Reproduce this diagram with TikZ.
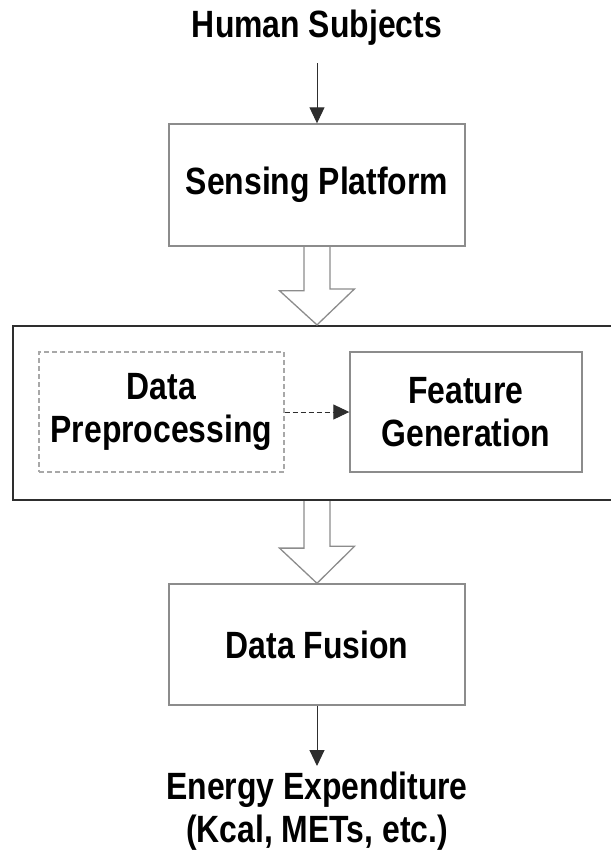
\documentclass[tikz,border=0pt]{standalone}
\usepackage{fontspec}
\setmainfont{Liberation Sans}[FakeStretch=0.84]
\usetikzlibrary{arrows.meta,calc}
\definecolor{boxgray}{HTML}{8C8C8C}
\definecolor{dashgray}{HTML}{A8A8A8}
\definecolor{linegray}{HTML}{2E2E2E}
\tikzset{
    label text/.style={font=\fontsize{38}{43}\selectfont\bfseries, align=center},
    plain box/.style={label text, draw=boxgray, line width=1.4pt, inner sep=0pt},
    dash box/.style={label text, draw=dashgray, line width=1.4pt, dash pattern=on 5pt off 3pt, inner sep=0pt},
    outer box/.style={draw=linegray, line width=2.2pt, inner sep=0pt},
    thin arrow/.style={draw=linegray, line width=1pt, -{Triangle[width=15pt,length=16pt]}},
    hollow/.style={draw=boxgray, line width=1.3pt, line join=miter}
}
\begin{document}
\begin{tikzpicture}[x=1pt, y=-1pt]
        \useasboundingbox (0, 0) rectangle (611, 863);
        \node[label text] (subj) at (317, 28) {Human Subjects};
        \coordinate (subjend) at (317, 63);
        \node[plain box, minimum width=296, minimum height=122] (sense) at (317, 185) {Sensing Platform};
        \node[outer box, minimum width=607, minimum height=174] (big) at (316.5, 413) {};
        \node[dash box, minimum width=245, minimum height=120] (prep) at (161.5, 412) {Data\\Preprocessing};
        \node[plain box, minimum width=232, minimum height=120] (feat) at (466, 412) {Feature\\Generation};
        \node[plain box, minimum width=296, minimum height=121] (fusion) at (317, 644.5) {Data Fusion};
        \node[label text] (ee) at (317, 811) {Energy Expenditure\\(Kcal, METs, etc.)};
        \coordinate (eestart) at (317, 766);
        \draw[thin arrow] (subjend) -- (sense.north);
        \draw[thin arrow, dash pattern=on 5pt off 3pt] (prep.east) -- (feat.west);
        \draw[thin arrow] (fusion.south) -- (eestart);
        % hollow block arrows
        \draw[hollow] ([xshift=-13pt]sense.south) -- ++(0, 44) -- ++(-24.5, 0) -- (sense.south |- big.north)
            -- ++(37.5, -36) -- ++(-24.5, 0) -- ([xshift=13pt]sense.south);
        \draw[hollow] ([xshift=-13pt]big.south -| fusion.north) -- ++(0, 47) -- ++(-24.5, 0) -- (fusion.north)
            -- ++(37.5, -37) -- ++(-24.5, 0) -- ([xshift=13pt]big.south -| fusion.north);
    \end{tikzpicture}
\end{document}
